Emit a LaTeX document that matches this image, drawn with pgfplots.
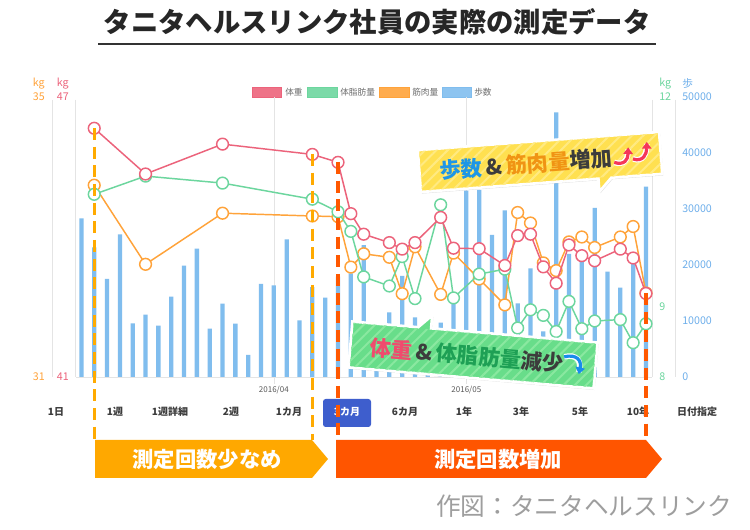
\documentclass[border=0pt]{standalone}
\usepackage{pgfplots}
\pgfplotsset{compat=1.18}
\usepackage{fontspec}
\setmainfont{Noto Sans CJK JP}
\usetikzlibrary{patterns.meta,shadows,arrows.meta}

\definecolor{redL}{RGB}{236,99,123}
\definecolor{greenL}{RGB}{108,214,158}
\definecolor{orangeL}{RGB}{255,163,58}
\definecolor{blueB}{RGB}{128,189,238}
\definecolor{blueT}{RGB}{110,175,235}
\definecolor{dashO}{RGB}{255,170,0}
\definecolor{dashR}{RGB}{255,88,0}
\definecolor{bannerO}{RGB}{255,168,0}
\definecolor{bannerR}{RGB}{255,85,0}
\definecolor{btnBlue}{RGB}{62,94,205}
\definecolor{yellowC}{RGB}{255,224,80}
\definecolor{yellowS}{RGB}{255,234,130}
\definecolor{greenC}{RGB}{104,221,138}
\definecolor{greenS}{RGB}{138,232,160}
\definecolor{txtDark}{RGB}{60,60,60}
\definecolor{gridG}{RGB}{228,228,228}
\definecolor{legT}{RGB}{110,110,110}
\definecolor{cBlue}{RGB}{30,150,230}
\definecolor{cOrange}{RGB}{240,148,20}
\definecolor{cRed}{RGB}{240,75,110}
\definecolor{cGreen}{RGB}{30,160,85}
\definecolor{arrRed}{RGB}{245,55,90}
\definecolor{arrBlue}{RGB}{25,140,235}

\pgfplotstableread{
i steps
0 28340
1 23160
2 17500
3 25480
4 9590
5 11130
6 9170
7 14340
8 19880
9 22920
10 8630
11 13090
12 9520
13 3930
14 16610
15 16370
16 24590
17 10120
18 16070
19 14160
20 17910
21 18500
22 23570
23 7000
24 11550
25 18040
26 10660
27 8000
28 9700
29 13750
30 33300
31 33400
32 25360
33 29750
34 13160
35 19400
36 8150
37 47270
38 22000
39 21000
40 30200
41 18800
42 15950
43 21000
44 33990
}\steps

\pgfplotstableread{
i w
1 46.33
5 45.35
11 45.99
18 45.77
20 45.60
21 44.50
22 44.06
24 43.88
25 43.74
26 43.88
28 44.42
29 43.76
31 43.75
33 43.39
34 44.03
35 44.06
36 43.36
37 43.01
38 43.83
39 43.60
40 43.49
42 43.74
43 43.55
44 42.79
}\weight

\pgfplotstableread{
i f
1 10.61
5 10.87
11 10.77
18 10.54
20 10.36
21 10.08
22 9.43
24 9.30
25 9.72
26 9.12
28 10.46
29 9.13
31 9.47
33 9.54
34 8.70
35 8.96
36 8.88
37 8.65
38 9.08
39 8.69
40 8.80
42 8.82
43 8.49
44 8.76
}\fat

\pgfplotstableread{
i m
1 33.74
5 32.61
11 33.34
18 33.30
20 33.29
21 32.57
22 32.76
24 32.71
25 32.19
26 32.86
28 32.18
29 32.77
31 32.40
33 32.03
34 33.35
35 33.20
36 32.63
37 32.52
38 32.93
39 33.00
40 32.85
42 33.00
43 33.15
44 32.20
}\muscle

\pgfplotsset{base/.style={
  scale only axis, width=432pt, height=210pt,
  at={(57pt,-282.75pt)}, anchor=south west,
  xmin=-0.42, xmax=44.47,
  axis line style={draw=none},
  major tick length=0pt,
  clip=false,
  /pgf/number format/assume math mode=true,
  /pgf/number format/1000 sep={},
  scaled y ticks=false,
  yticklabel style={font=\fontsize{8}{9}\selectfont, inner sep=0pt},
}}

\begin{document}
\begin{tikzpicture}
\begin{scope}[x=0.75pt,y=-0.75pt]
\useasboundingbox (0,0) rectangle (750,530);
\fill[white] (0,0) rectangle (750,530);
% title
\node[font=\fontsize{20.5}{24}\selectfont\bfseries, text=black!85] at (377,22) {タニタヘルスリンク社員の実際の測定データ};
\draw[black!80, line width=1.5pt] (98,44) -- (656,44);
% legend
\filldraw[fill=redL!90, draw=redL] (252,87.5) rectangle (281,97);
\node[anchor=west, font=\fontsize{6.5}{7}\selectfont, text=legT, inner sep=0pt] at (285,92) {体重};
\filldraw[fill=greenL!90, draw=greenL] (307,87.5) rectangle (337,97);
\node[anchor=west, font=\fontsize{6.5}{7}\selectfont, text=legT, inner sep=0pt] at (340,92) {体脂肪量};
\filldraw[fill=orangeL!90, draw=orangeL] (379,87.5) rectangle (409,97);
\node[anchor=west, font=\fontsize{6.5}{7}\selectfont, text=legT, inner sep=0pt] at (412,92) {筋肉量};
\filldraw[fill=blueB!90, draw=blueB] (442,87.5) rectangle (471,97);
\node[anchor=west, font=\fontsize{6.5}{7}\selectfont, text=legT, inner sep=0pt] at (474,92) {歩数};
% axis lines and grid
\draw[gridG, line width=0.75pt] (52,100) -- (52,377);
\draw[gridG, line width=0.75pt] (75.5,100) -- (75.5,377);
\draw[gridG, line width=0.75pt] (652,100) -- (652,377);
\draw[gridG, line width=0.75pt] (675,100) -- (675,377);
\draw[gridG, line width=0.75pt] (76,377.5) -- (652,377.5);
\draw[gridG, line width=0.75pt] (274,97) -- (274,384);
\draw[gridG, line width=0.75pt] (466.5,97) -- (466.5,384);
% units
\node[anchor=east, inner sep=0pt, font=\fontsize{8}{9}\selectfont, text=orangeL] at (45,84) {kg};
\node[anchor=east, inner sep=0pt, font=\fontsize{8}{9}\selectfont, text=redL] at (69,84) {kg};
\node[anchor=west, inner sep=0pt, font=\fontsize{8}{9}\selectfont, text=greenL] at (659,84) {kg};
\node[anchor=west, inner sep=0pt, font=\fontsize{8}{9}\selectfont, text=blueT] at (682,83) {歩};
\end{scope}

% steps
\begin{axis}[base, ymin=0, ymax=50000, axis y line*=right,
  axis x line*=bottom, xtick={15,30}, xticklabels={2016/04,2016/05},
  xticklabel style={font=\fontsize{6}{7}\selectfont, text=black!65, inner sep=0pt, anchor=north, yshift=-6.5pt},
  ytick={0,10000,20000,30000,40000,50000},
  yticklabel style={anchor=west, xshift=22.5pt, text=blueT},
  ybar, bar width=3.2pt]
\addplot[fill=blueB, draw=none, bar shift=0pt] table[x=i,y=steps] {\steps};
\end{axis}

% muscle
\begin{axis}[base, axis x line=none, ymin=31, ymax=35, axis y line*=left, ytick={31,35},
  yticklabel style={anchor=east, xshift=-23.25pt, text=orangeL}]
\addplot[color=orangeL, line width=1.1pt, mark=*, mark size=4.4pt,
  mark options={fill=white, draw=orangeL, line width=1.1pt}] table[x=i,y=m] {\muscle};
\end{axis}

% fat
\begin{axis}[base, axis x line=none, ymin=8, ymax=12, axis y line*=right, ytick={8,9,12},
  yticklabel style={anchor=west, xshift=5.25pt, text=greenL}]
\addplot[color=greenL, line width=1.1pt, mark=*, mark size=4.4pt,
  mark options={fill=white, draw=greenL, line width=1.1pt}] table[x=i,y=f] {\fat};
\end{axis}

% weight
\begin{axis}[base, axis x line=none, ymin=41, ymax=47, axis y line*=left, ytick={41,47},
  yticklabel style={anchor=east, xshift=-5.25pt, text=redL}]
\addplot[color=redL, line width=1.1pt, mark=*, mark size=4.4pt,
  mark options={fill=white, draw=redL, line width=1.1pt}] table[x=i,y=w] {\weight};
\end{axis}

\begin{scope}[x=0.75pt,y=-0.75pt]
% period buttons
\fill[btnBlue, rounded corners=2pt] (323,399) rectangle (371,427);
\foreach \xx/\tt in {56/1日, 115/1週, 170/1週詳細, 231/2週, 289/1カ月, 405/6カ月, 464/1年, 521/3年, 580/5年, 638/10年, 697/日付指定}{
  \node[font=\fontsize{7.5}{8}\selectfont\bfseries, text=txtDark] at (\xx,412) {\tt};
}
\node[font=\fontsize{7.5}{8}\selectfont\bfseries, text=white] at (347,412) {3カ月};
% banners
\fill[bannerO] (95,440) -- (312,440) -- (328,459) -- (312,478) -- (95,478) -- cycle;
\node[font=\fontsize{16}{18}\selectfont\bfseries, text=white] at (207,459) {測定回数少なめ};
\fill[bannerR] (336,440) -- (646,440) -- (662,459) -- (646,478) -- (336,478) -- cycle;
\node[font=\fontsize{16}{18}\selectfont\bfseries, text=white] at (498,459) {測定回数増加};
% dashed lines
\draw[dashO, line width=2.6pt, dash pattern=on 9pt off 5pt] (94.3,128) -- (94.3,440);
\draw[dashO, line width=2.6pt, dash pattern=on 9pt off 5pt] (312.3,154) -- (312.3,440);
\draw[dashR, line width=3pt, dash pattern=on 9pt off 5pt] (338,162) -- (338,440);
\draw[dashR, line width=3pt, dash pattern=on 9pt off 5pt] (645.7,293) -- (645.7,440);
% credit
\node[anchor=east, text=black!38, font=\fontsize{18.5}{20}\selectfont] at (737,506) {作図：タニタヘルスリンク};

% yellow callout
\begin{scope}[shift={(540,162)}, rotate=4.3, transform shape]
\path[fill=yellowC, draw=white, line width=2pt, drop shadow={shadow xshift=0.8pt, shadow yshift=-1.2pt, opacity=0.25}]
  (-121,-21) -- (121,-21) -- (121,21) -- (70,21) -- (57,34) -- (57,21) -- (-121,21) -- cycle;
\path[pattern={Lines[angle=45,distance=6pt,line width=1.5pt]}, pattern color=yellowS]
  (-120,-20) -- (120,-20) -- (120,20) -- (-120,20) -- cycle;
\node[font=\fontsize{16}{18}\selectfont\bfseries, inner sep=0pt] at (-14,1)
  {\textcolor{cBlue}{歩数}\textcolor{txtDark}{\,\&\,}\textcolor{cOrange}{筋肉量}\textcolor{txtDark}{増加}};
\draw[white, line width=4.2pt] (74,6) .. controls (84,10) and (88,4) .. (89,-6);
\draw[arrRed, line width=2.4pt, -{Triangle[length=5pt,width=7pt]}] (74,6) .. controls (84,10) and (88,4) .. (89,-8);
\draw[white, line width=4.2pt] (93,4) .. controls (103,8) and (107,0) .. (108,-10);
\draw[arrRed, line width=2.4pt, -{Triangle[length=5pt,width=7pt]}] (93,4) .. controls (103,8) and (107,0) .. (108,-12);
\end{scope}

% green callout
\begin{scope}[shift={(473,355)}, rotate=-4.9, transform shape]
\path[fill=greenC, draw=white, line width=2pt, drop shadow={shadow xshift=0.8pt, shadow yshift=-1.2pt, opacity=0.25}]
  (-123,-23) -- (-57,-23) -- (-44,-36) -- (-44,-23) -- (123,-23) -- (123,23) -- (-123,23) -- cycle;
\path[pattern={Lines[angle=45,distance=6pt,line width=1.5pt]}, pattern color=greenS]
  (-122,-22) -- (122,-22) -- (122,22) -- (-122,22) -- cycle;
\node[font=\fontsize{16}{18}\selectfont\bfseries, inner sep=0pt] at (-6,1)
  {\textcolor{cRed}{体重}\textcolor{txtDark}{\,\&\,}\textcolor{cGreen}{体脂肪量}\textcolor{txtDark}{減少}};
\draw[white, line width=4.2pt] (91,-6) .. controls (103,-10) and (109,-4) .. (107,8);
\draw[arrBlue, line width=2.4pt, -{Triangle[length=5pt,width=7pt]}] (91,-6) .. controls (103,-10) and (109,-4) .. (107,10);
\end{scope}
\end{scope}
\end{tikzpicture}
\end{document}
